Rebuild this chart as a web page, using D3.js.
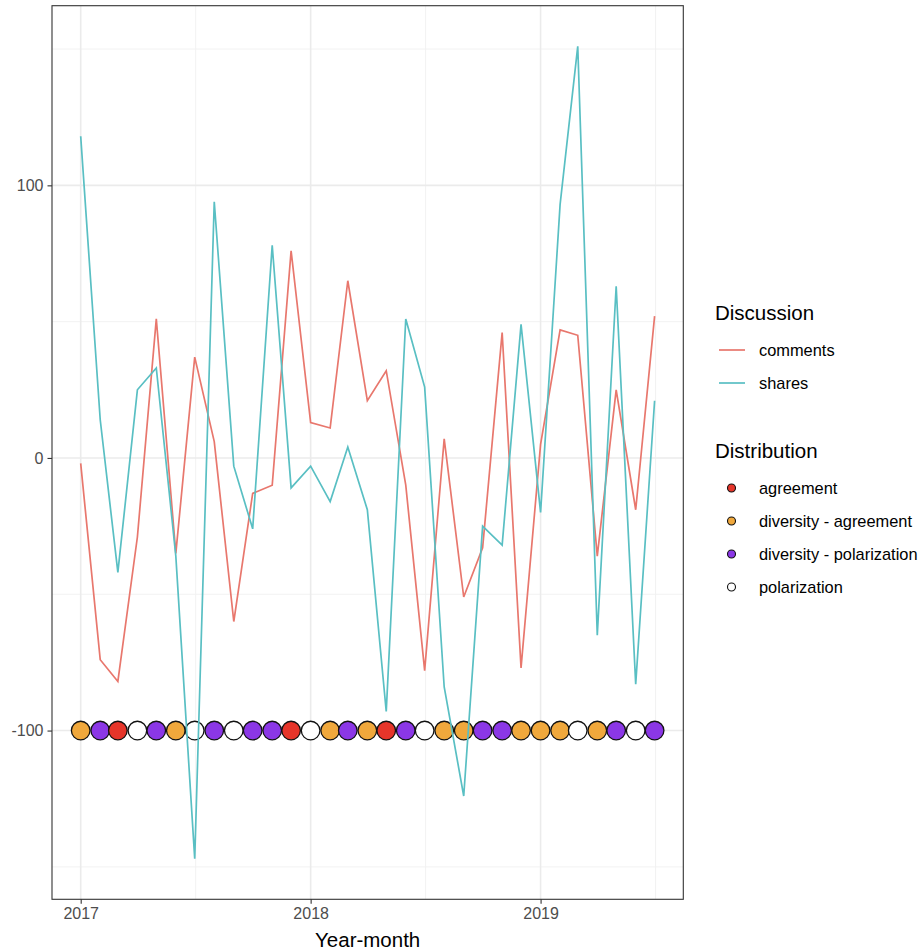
<!DOCTYPE html>
<html>
<head>
<meta charset="utf-8">
<script src="https://cdn.jsdelivr.net/npm/d3@7"></script>
<style>
  html, body { margin: 0; padding: 0; background: #fff; }
  text { font-family: "Liberation Sans", Arial, sans-serif; }
</style>
</head>
<body>
<svg id="chart" width="921" height="951"></svg>
<script>
const months = ["2017-01","2017-02","2017-03","2017-04","2017-05","2017-06","2017-07","2017-08","2017-09","2017-10","2017-11","2017-12",
                "2018-01","2018-02","2018-03","2018-04","2018-05","2018-06","2018-07","2018-08","2018-09","2018-10","2018-11","2018-12",
                "2019-01","2019-02","2019-03","2019-04","2019-05","2019-06","2019-07"];
const comments = [-2, -74, -82, -29, 51, -35, 37, 6, -60, -13, -10, 76, 13, 11, 65, 21, 32, -10, -78, 7, -51, -33, 46, -77, 5, 47, 45, -36, 25, -19, 52];
const shares   = [118, 14, -42, 25, 33, -36, -147, 94, -3, -26, 78, -11, -3, -16, 4, -19, -93, 51, 26, -84, -124, -25, -32, 49, -20, 93, 151, -65, 63, -83, 21];
const distribution = ["diversity - agreement","diversity - polarization","agreement","polarization","diversity - polarization","diversity - agreement",
  "polarization","diversity - polarization","polarization","diversity - polarization","diversity - polarization","agreement","polarization",
  "diversity - agreement","diversity - polarization","diversity - agreement","agreement","diversity - polarization","polarization",
  "diversity - agreement","diversity - agreement","diversity - polarization","diversity - polarization","diversity - agreement",
  "diversity - agreement","diversity - agreement","polarization","diversity - agreement","diversity - polarization","polarization","diversity - polarization"];
const distributionLevel = -100;
const discussionSeries = ["comments", "shares"];
const distributionCats = ["agreement","diversity - agreement","diversity - polarization","polarization"];
const yMajorTicks = [-100, 0, 100];
const yMinorTicks = [-150, -50, 50, 150];
const xTickLabels = ["2017", "2018", "2019"];

const lineColors = {comments: "#E8776D", shares: "#59BFC3"};
const pointColors = {"agreement": "#E6352A", "diversity - agreement": "#F0A83C", "diversity - polarization": "#8B37E6", "polarization": "#FFFFFF"};

const parse = d3.timeParse("%Y-%m");
const dates = months.map(parse);
const series = {comments, shares};

const svg = d3.select("#chart");
const panel = {left: 52, right: 683.3, top: 5.7, bottom: 899.3};

// x scale with 5% expansion
const xExt = d3.extent(dates);
const xPad = (xExt[1] - xExt[0]) * 0.05;
const x = d3.scaleTime()
  .domain([new Date(+xExt[0] - xPad), new Date(+xExt[1] + xPad)])
  .range([panel.left, panel.right]);

const allY = comments.concat(shares, [distributionLevel]);
const yExt = d3.extent(allY);
const yPad = (yExt[1] - yExt[0]) * 0.05;
const y = d3.scaleLinear().domain([yExt[0] - yPad, yExt[1] + yPad]).range([panel.bottom, panel.top]);

const g = svg.append("g");

// grid
const xMajor = xTickLabels.map(s => d3.timeParse("%Y")(s));
const xMinor = xTickLabels.map(s => { const a = d3.timeParse("%Y")(s); const b = d3.timeYear.offset(a, 1); return new Date((+a + +b) / 2); });
g.selectAll(".ymin").data(yMinorTicks).join("line")
  .attr("x1", panel.left).attr("x2", panel.right)
  .attr("y1", d => y(d)).attr("y2", d => y(d))
  .attr("stroke", "#F0F0F0").attr("stroke-width", 0.9);
g.selectAll(".xmin").data(xMinor).join("line")
  .attr("y1", panel.top).attr("y2", panel.bottom)
  .attr("x1", d => x(d)).attr("x2", d => x(d))
  .attr("stroke", "#F0F0F0").attr("stroke-width", 0.9);
g.selectAll(".ymaj").data(yMajorTicks).join("line")
  .attr("x1", panel.left).attr("x2", panel.right)
  .attr("y1", d => y(d)).attr("y2", d => y(d))
  .attr("stroke", "#EBEBEB").attr("stroke-width", 1.6);
g.selectAll(".xmaj").data(xMajor).join("line")
  .attr("y1", panel.top).attr("y2", panel.bottom)
  .attr("x1", d => x(d)).attr("x2", d => x(d))
  .attr("stroke", "#EBEBEB").attr("stroke-width", 1.6);

// points
g.selectAll(".pt").data(dates).join("circle")
  .attr("cx", d => x(d)).attr("cy", y(distributionLevel)).attr("r", 9.3)
  .attr("fill", (d, i) => pointColors[distribution[i]])
  .attr("stroke", "#111").attr("stroke-width", 1.3);

// lines
const line = d3.line().x((d, i) => x(dates[i])).y(d => y(d));
discussionSeries.forEach(k => {
  g.append("path").datum(series[k]).attr("d", line)
    .attr("fill", "none").attr("stroke", lineColors[k]).attr("stroke-width", 1.7)
    .attr("stroke-linejoin", "miter");
});

// border
g.append("rect").attr("x", panel.left).attr("y", panel.top)
  .attr("width", panel.right - panel.left).attr("height", panel.bottom - panel.top)
  .attr("fill", "none").attr("stroke", "#333").attr("stroke-width", 1.1);

// axes
const yAxis = d3.axisLeft(y).tickValues(yMajorTicks).tickSize(4.5).tickPadding(4).tickFormat(d => String(d));
const ya = svg.append("g").attr("transform", `translate(${panel.left},0)`).call(yAxis);
ya.select(".domain").remove();
ya.selectAll("line").attr("stroke", "#333").attr("stroke-width", 1.1);
ya.selectAll("text").attr("fill", "#4D4D4D").style("font-size", "16px").style("font-family", "'Liberation Sans', Arial, sans-serif");

const xAxis = d3.axisBottom(x).tickValues(xMajor).tickSize(4.5).tickPadding(4).tickFormat((d, i) => xTickLabels[i]);
const xa = svg.append("g").attr("transform", `translate(0,${panel.bottom})`).call(xAxis);
xa.select(".domain").remove();
xa.selectAll("line").attr("stroke", "#333").attr("stroke-width", 1.1);
xa.selectAll("text").attr("fill", "#4D4D4D").style("font-size", "16px").style("font-family", "'Liberation Sans', Arial, sans-serif");

svg.append("text").attr("x", (panel.left + panel.right) / 2).attr("y", 947)
  .attr("text-anchor", "middle").style("font-size", "20.5px").attr("fill", "#000").text("Year-month");

// legend
const lg = svg.append("g");
lg.append("text").attr("x", 715).attr("y", 320).style("font-size", "20.5px").text("Discussion");
discussionSeries.forEach((k, i) => {
  const cy = 350 + i * 33;
  lg.append("line").attr("x1", 719).attr("x2", 745).attr("y1", cy).attr("y2", cy)
    .attr("stroke", lineColors[k]).attr("stroke-width", 1.7);
  lg.append("text").attr("x", 759).attr("y", cy + 5.8).style("font-size", "16.4px").text(k);
});
lg.append("text").attr("x", 715).attr("y", 458).style("font-size", "20.5px").text("Distribution");
distributionCats.forEach((k, i) => {
  const cy = 488 + i * 33;
  lg.append("circle").attr("cx", 731.5).attr("cy", cy).attr("r", 4)
    .attr("fill", pointColors[k]).attr("stroke", "#111").attr("stroke-width", 1.1);
  lg.append("text").attr("x", 759).attr("y", cy + 5.8).style("font-size", "16.4px").text(k);
});
</script>
</body>
</html>
